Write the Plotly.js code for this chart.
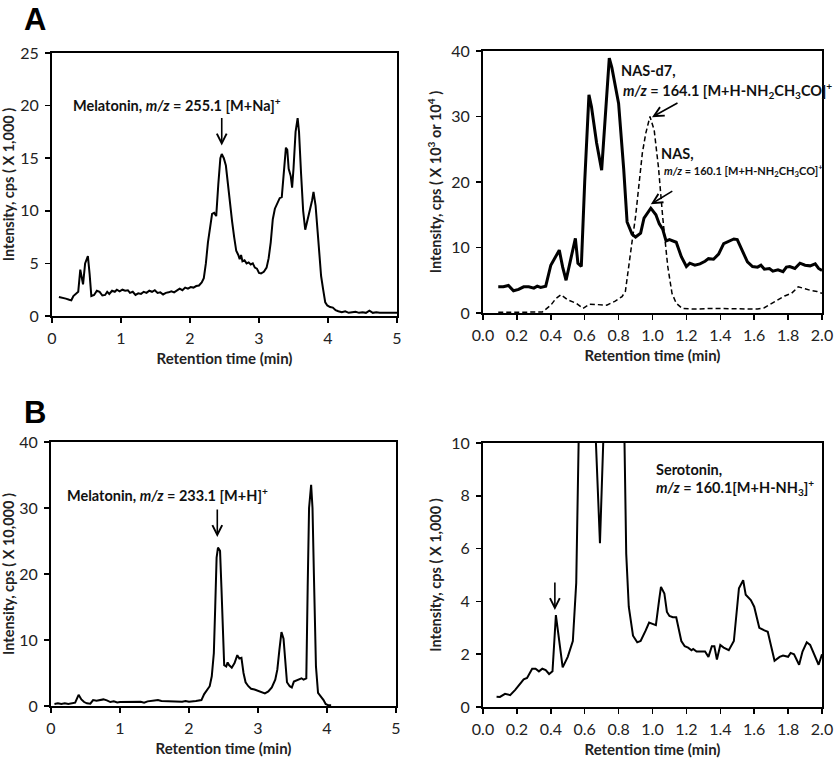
<!DOCTYPE html>
<html>
<head>
<meta charset="utf-8">
<script src="https://cdn.plot.ly/plotly-3.0.1.min.js"></script>
<style>html,body{margin:0;padding:0;background:#fff}#chart{width:835px;height:759px}</style>
</head>
<body>
<div id="chart"></div>
<script>
// Panel A (left): Melatonin m/z 255.1
const aLeftTime = [0.10,0.15,0.20,0.25,0.28,0.31,0.35,0.38,0.41,0.45,0.48,0.52,0.545,0.57,0.61,0.65,0.69,0.73,0.77,0.80,0.83,0.87,0.91,0.94,0.98,1.02,1.06,1.10,1.13,1.17,1.21,1.25,1.29,1.33,1.37,1.41,1.45,1.49,1.53,1.57,1.61,1.65,1.69,1.73,1.77,1.81,1.85,1.89,1.93,1.97,2.01,2.05,2.09,2.13,2.17,2.20,2.23,2.26,2.29,2.32,2.35,2.38,2.41,2.44,2.46,2.49,2.52,2.55,2.58,2.61,2.64,2.67,2.70,2.72,2.74,2.76,2.79,2.82,2.85,2.88,2.91,2.94,2.97,3.00,3.03,3.07,3.11,3.14,3.17,3.20,3.23,3.27,3.30,3.33,3.36,3.39,3.41,3.43,3.46,3.48,3.50,3.53,3.56,3.58,3.61,3.64,3.67,3.70,3.74,3.77,3.79,3.82,3.85,3.88,3.90,3.93,3.96,3.99,4.03,4.07,4.11,4.15,4.20,4.25,4.30,4.35,4.40,4.45,4.50,4.55,4.60,4.65,4.70,4.75,4.80,4.85,4.90,4.95,5.00];
const aLeftIntensity = [1.8,1.75,1.65,1.55,1.5,1.9,2.1,2.3,4.4,3.0,5.0,5.7,4.0,1.9,2.0,2.4,2.3,1.95,2.0,2.3,2.1,2.4,2.3,2.5,2.35,2.5,2.4,2.45,2.2,2.3,2.0,2.15,2.1,2.3,2.2,2.4,2.3,2.45,2.2,2.25,2.05,2.2,2.25,2.35,2.25,2.4,2.6,2.45,2.7,2.6,2.75,2.7,2.85,2.9,3.2,3.6,5.0,7.0,8.5,9.7,9.8,9.5,12.5,15.0,15.4,15.0,14.3,12.5,10.2,9.0,7.5,6.2,5.8,5.4,5.8,5.2,5.3,5.0,5.1,4.9,5.0,4.6,4.5,4.1,4.05,4.2,4.6,5.5,7.0,9.2,10.2,10.8,11.2,11.3,13.5,16.0,15.8,14.0,13.3,12.2,14.0,17.5,18.8,17.5,13.5,10.0,8.2,9.0,10.0,11.0,11.8,10.5,8.0,4.8,3.8,2.5,1.3,1.0,0.85,0.8,0.55,0.45,0.35,0.45,0.3,0.35,0.4,0.3,0.35,0.3,0.5,0.3,0.35,0.3,0.3,0.25,0.3,0.25,0.3];

// Panel A (right): NAS (solid) and NAS-d7 (dashed)
const nasTime = [0.09,0.12,0.15,0.18,0.21,0.24,0.27,0.30,0.32,0.34,0.37,0.40,0.42,0.45,0.47,0.49,0.52,0.545,0.56,0.58,0.60,0.625,0.64,0.67,0.70,0.72,0.745,0.76,0.80,0.83,0.85,0.88,0.90,0.93,0.95,0.99,1.02,1.04,1.06,1.08,1.10,1.14,1.17,1.20,1.22,1.25,1.28,1.31,1.33,1.36,1.39,1.42,1.45,1.48,1.50,1.53,1.56,1.59,1.62,1.64,1.66,1.69,1.71,1.74,1.77,1.79,1.81,1.84,1.87,1.90,1.93,1.96,1.98,2.00];
const nasIntensity = [4.0,4.0,4.2,3.4,3.6,4.0,4.0,3.8,4.1,3.9,4.1,7.3,8.2,9.6,7.0,5.0,8.5,11.4,7.6,7.1,20.0,33.3,31.5,26.0,21.8,30.0,38.9,37.5,32.0,22.0,13.9,12.0,11.6,12.2,14.5,16.0,15.0,13.6,12.8,11.0,11.2,10.8,8.6,7.1,7.6,7.3,7.5,7.9,8.3,8.2,9.0,10.6,10.9,11.3,11.2,9.5,7.8,7.1,7.0,7.3,6.7,6.8,6.4,6.6,6.3,7.0,7.1,6.8,7.6,7.3,7.2,7.5,6.8,6.5];
const nasD7Time = [0.09,0.15,0.20,0.25,0.30,0.35,0.40,0.43,0.46,0.50,0.55,0.59,0.63,0.68,0.73,0.78,0.82,0.84,0.86,0.88,0.90,0.92,0.94,0.96,0.985,1.01,1.035,1.06,1.09,1.115,1.14,1.175,1.25,1.35,1.45,1.55,1.62,1.66,1.70,1.74,1.78,1.82,1.86,1.90,1.94,1.97,2.00];
const nasD7Intensity = [0.1,0.1,0.1,0.05,0.1,0.15,1.2,2.2,2.8,2.0,1.5,0.7,1.35,1.3,1.2,1.8,2.5,3.3,7.6,11.0,14.7,20.0,24.4,27.4,30.0,27.9,22.3,14.7,7.1,3.0,1.5,0.7,0.6,0.7,0.7,0.6,0.6,0.8,1.4,2.0,2.6,3.0,4.0,3.7,3.4,3.3,3.0];

// Panel B (left): Melatonin m/z 233.1
const bLeftTime = [0.05,0.10,0.15,0.20,0.25,0.30,0.35,0.40,0.44,0.48,0.52,0.57,0.61,0.66,0.71,0.76,0.81,0.86,0.91,0.96,1.00,1.10,1.20,1.30,1.35,1.40,1.50,1.55,1.60,1.70,1.80,1.90,1.95,2.00,2.10,2.18,2.22,2.26,2.30,2.33,2.36,2.38,2.40,2.42,2.45,2.47,2.49,2.51,2.54,2.56,2.58,2.62,2.66,2.70,2.73,2.76,2.79,2.82,2.86,2.90,2.95,3.00,3.05,3.10,3.15,3.20,3.25,3.28,3.31,3.34,3.37,3.39,3.42,3.46,3.49,3.52,3.56,3.60,3.63,3.66,3.70,3.72,3.74,3.77,3.79,3.81,3.84,3.87,3.91,3.95,3.98,4.02,4.06];
const bLeftIntensity = [0.3,0.4,0.3,0.4,0.3,0.35,0.5,1.7,1.0,0.6,0.4,0.35,0.9,0.8,0.9,1.0,0.85,0.6,0.7,0.55,0.6,0.65,0.6,0.65,0.5,0.7,0.85,0.9,0.75,0.7,0.7,0.65,0.75,0.65,0.75,0.9,1.8,2.5,3.0,4.5,8.0,15.0,22.5,24.0,23.5,18.0,10.0,6.2,6.0,6.6,6.2,5.8,6.5,7.7,7.2,7.3,5.0,3.6,3.0,2.6,2.5,2.3,2.2,1.9,2.2,2.8,4.0,5.5,8.5,11.2,10.2,7.0,3.6,3.0,2.8,3.7,3.9,4.0,4.2,4.0,4.2,18.0,30.0,33.5,30.0,20.0,6.0,2.0,1.5,0.9,0.3,0.1,0.1];

// Panel B (right): Serotonin m/z 160.1
const serTime = [0.08,0.10,0.13,0.16,0.19,0.21,0.24,0.26,0.29,0.31,0.33,0.35,0.37,0.39,0.41,0.43,0.47,0.50,0.53,0.55,0.58,0.62,0.66,0.69,0.71,0.78,0.83,0.845,0.86,0.885,0.91,0.93,0.96,0.98,1.00,1.02,1.04,1.05,1.07,1.085,1.10,1.12,1.14,1.17,1.19,1.21,1.23,1.24,1.26,1.28,1.31,1.33,1.35,1.365,1.38,1.40,1.42,1.45,1.48,1.51,1.535,1.55,1.58,1.60,1.63,1.66,1.68,1.70,1.72,1.75,1.77,1.80,1.815,1.835,1.865,1.885,1.91,1.93,1.96,1.98,2.00];
const serIntensity = [0.39,0.38,0.5,0.45,0.65,0.8,1.05,1.1,1.45,1.45,1.35,1.45,1.4,1.25,1.35,3.48,1.5,1.9,2.5,4.7,16,22,11,6.2,12,24,12,5.8,3.8,2.7,2.45,2.5,2.9,3.2,3.15,3.1,4.1,4.55,4.3,3.6,3.45,3.4,3.4,2.5,2.3,2.25,2.15,2.2,2.1,2.1,2.1,1.9,2.3,2.3,1.8,2.35,2.25,2.15,2.5,4.5,4.8,4.25,4.05,3.8,3.0,2.9,2.85,2.3,1.75,1.9,1.95,1.9,2.05,2.0,1.6,2.1,2.45,2.35,1.9,1.6,2.0];

const xTitle = 'Retention time (min)';
const yTitles = ['Intensity, cps ( X 1,000 )', 'Intensity, cps ( X 10<sup>3</sup> or 10<sup>4</sup> )', 'Intensity, cps ( X 10,000 )', 'Intensity, cps ( X 1,000 )'];

const W = 835, H = 759;
const FONT = 'Lato, "Open Sans", sans-serif';
const px = (a, b) => [a / W, b / W];
const py = (top, bottom) => [1 - bottom / H, 1 - top / H];

const traces = [
  {x: aLeftTime, y: aLeftIntensity, xaxis: 'x', yaxis: 'y', mode: 'lines', line: {color: '#000', width: 2}},
  {x: nasTime, y: nasIntensity, xaxis: 'x2', yaxis: 'y2', mode: 'lines', line: {color: '#000', width: 3}},
  {x: nasD7Time, y: nasD7Intensity, xaxis: 'x2', yaxis: 'y2', mode: 'lines', line: {color: '#000', width: 1.5, dash: '5px,3px'}},
  {x: bLeftTime, y: bLeftIntensity, xaxis: 'x3', yaxis: 'y3', mode: 'lines', line: {color: '#000', width: 2}},
  {x: serTime, y: serIntensity, xaxis: 'x4', yaxis: 'y4', mode: 'lines', line: {color: '#000', width: 2}}
];

function xa(domain, range, dtick, fmt, anchor) {
  return {domain, range, dtick, tick0: 0, tickformat: fmt, anchor,
    showline: true, mirror: true, linecolor: '#000', linewidth: 2,
    ticks: 'outside', ticklen: 5, tickwidth: 1.5, tickcolor: '#000',
    ticklabelstandoff: 2,
    showgrid: false, zeroline: false, fixedrange: true,
    tickfont: {family: FONT, size: 16, color: '#222'},
    title: {text: xTitle, font: {family: FONT, size: 15, weight: 'bold', color: '#222'}, standoff: 7}};
}
function ya(domain, range, dtick, anchor, t) {
  return {domain, range, dtick, tick0: 0, anchor,
    showline: true, mirror: true, linecolor: '#000', linewidth: 2,
    ticks: 'outside', ticklen: 5, tickwidth: 1.5, tickcolor: '#000',
    ticklabelstandoff: 3,
    showgrid: false, zeroline: false, fixedrange: true,
    tickfont: {family: FONT, size: 16, color: '#222'},
    title: {text: t, font: {family: FONT, size: 14.5, weight: 'bold', color: '#222'}, standoff: 6}};
}

const annFont = {family: FONT, size: 14.5, weight: 'bold', color: '#111'};
const smallFont = {family: FONT, size: 11, weight: 'bold', color: '#111'};
function arrow(xref, yref, x, y, ax, ay) {
  return {xref, yref, x, y, ax, ay, text: '', showarrow: true, arrowhead: 5, arrowsize: 1.2, arrowwidth: 1.6, arrowcolor: '#000', font: {size: 1}};
}
function label(xref, yref, x, y, text, font, xanchor) {
  return {xref, yref, x, y, text, showarrow: false, font, xanchor: xanchor || 'center', yanchor: 'middle'};
}
const letterFont = {family: 'Liberation Sans, Arial, sans-serif', size: 31, weight: 'bold', color: '#000'};

const layout = {
  width: W, height: H, margin: {l: 0, r: 0, t: 0, b: 0},
  paper_bgcolor: '#fff', plot_bgcolor: '#fff', showlegend: false,
  xaxis: xa(px(52, 397), [0, 5], 1, '', 'y'),
  yaxis: ya(py(53, 316), [0, 25], 5, 'x', yTitles[0]),
  xaxis2: xa(px(483, 822), [0, 2], 0.2, '.1f', 'y2'),
  yaxis2: ya(py(51, 313), [0, 40], 10, 'x2', yTitles[1]),
  xaxis3: xa(px(51, 396), [0, 5], 1, '', 'y3'),
  yaxis3: ya(py(442, 706), [0, 40], 10, 'x3', yTitles[2]),
  xaxis4: xa(px(483, 822), [0, 2], 0.2, '.1f', 'y4'),
  yaxis4: ya(py(443, 707), [0, 10], 2, 'x4', yTitles[3]),
  annotations: [
    {xref: 'paper', yref: 'paper', x: 22 / W, y: 1, xanchor: 'left', yanchor: 'top', text: 'A', showarrow: false, font: letterFont},
    {xref: 'paper', yref: 'paper', x: 22 / W, y: 1 - 393 / H, xanchor: 'left', yanchor: 'top', text: 'B', showarrow: false, font: letterFont},
    label('x', 'y', 1.81, 20.15, 'Melatonin, <i>m/z</i> = 255.1 [M+Na]<sup>+</sup>', annFont),
    arrow('x', 'y', 2.46, 16.2, 0, -29),
    label('x2', 'y2', 0.80, 37.1, 'NAS-d7,', annFont, 'left'),
    label('x2', 'y2', 0.815, 34.0, '<i>m/z</i> = 164.1 [M+H-NH<sub>2</sub>CH<sub>3</sub>CO]<sup>+</sup>', annFont, 'left'),
    arrow('x2', 'y2', 0.997, 29.9, 27, -15),
    label('x2', 'y2', 1.04, 24.3, 'NAS,', annFont, 'left'),
    label('x2', 'y2', 1.055, 21.8, '<i>m/z</i> = 160.1 [M+H-NH<sub>2</sub>CH<sub>3</sub>CO]<sup>+</sup>', smallFont, 'left'),
    arrow('x2', 'y2', 0.99, 16.6, 23, -14),
    label('x3', 'y3', 1.69, 32.0, 'Melatonin, <i>m/z</i> = 233.1 [M+H]<sup>+</sup>', annFont),
    arrow('x3', 'y3', 2.41, 25.6, 0, -29),
    label('x4', 'y4', 1.01, 9.0, 'Serotonin,', annFont, 'left'),
    label('x4', 'y4', 1.01, 8.3, '<i>m/z</i> = 160.1[M+H-NH<sub>3</sub>]<sup>+</sup>', annFont, 'left'),
    arrow('x4', 'y4', 0.424, 3.67, 0, -29)
  ]
};

Plotly.newPlot('chart', traces, layout, {displayModeBar: false, staticPlot: true});
</script>
</body>
</html>
